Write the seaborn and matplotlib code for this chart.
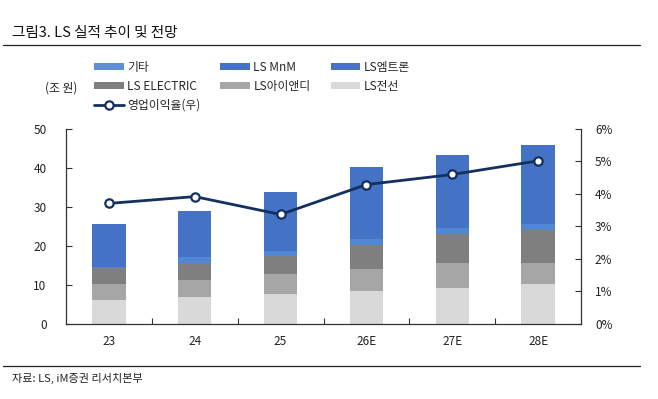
import numpy as np
import pandas as pd
import seaborn as sns
import matplotlib.pyplot as plt
from matplotlib.patches import Patch
from matplotlib.lines import Line2D
from matplotlib.ticker import FixedLocator, PercentFormatter

# 데이터 (단위: 조 원)
years = ['23', '24', '25', '26E', '27E', '28E']
ls_cable = [6.15, 6.85, 7.6, 8.45, 9.3, 10.3]      # LS전선
ls_ind = [4.1, 4.45, 5.1, 5.65, 6.4, 5.25]          # LS아이앤디
ls_electric = [4.0, 4.45, 4.8, 6.2, 7.4, 8.55]      # LS ELECTRIC
etc = [0.3, 1.5, 1.3, 1.4, 1.4, 1.5]                # 기타
ls_mtron = [1.2, 1.2, 1.3, 1.4, 1.5, 1.6]           # LS엠트론
ls_mnm = [9.8, 10.6, 13.7, 17.2, 17.4, 18.8]        # LS MnM
op_margin = [3.71, 3.92, 3.37, 4.29, 4.60, 5.02]    # 영업이익율(%)

df = pd.DataFrame({'year': years, 'LS전선': ls_cable, 'LS아이앤디': ls_ind,
                   'LS ELECTRIC': ls_electric, '기타': etc,
                   'LS엠트론': ls_mtron, 'LS MnM': ls_mnm, 'margin': op_margin})

colors = {'LS전선': '#d9d9d9', 'LS아이앤디': '#a6a6a6', 'LS ELECTRIC': '#7f7f7f',
          '기타': '#5287d3', 'LS엠트론': '#4472c4', 'LS MnM': '#4472c4'}
stack = ['LS전선', 'LS아이앤디', 'LS ELECTRIC', '기타', 'LS엠트론', 'LS MnM']

sns.set_theme(style='white')
plt.rcParams['font.family'] = ['Noto Sans CJK KR', 'DejaVu Sans']

fig = plt.figure(figsize=(6.58, 3.99), dpi=100)
ax = fig.add_axes([0.1003, 0.188, 0.7827, 0.4887])

bottom = np.zeros(len(df))
for col in stack:
    sns.barplot(data=df, x='year', y=col, color=colors[col], bottom=bottom,
                width=0.39, saturation=1, ax=ax, linewidth=0)
    bottom += df[col].values

ax.set_ylim(0, 50)
ax.set_xlim(-0.5, 5.5)
ax.set_yticks(range(0, 51, 10))
ax.set_xlabel('')
ax.set_ylabel('')
ax.xaxis.set_minor_locator(FixedLocator(np.arange(0.5, 5, 1)))
ax.tick_params(axis='x', which='major', length=0, labelsize=8.5, pad=8, colors='#222222')
ax.tick_params(axis='x', which='minor', direction='in', length=4, width=0.8,
               bottom=True, color='#333333')
ax.tick_params(axis='y', direction='in', length=4, width=0.8, labelsize=8.5,
               pad=14, left=True, color='#333333', labelcolor='#222222')
for s in ['top', 'right']:
    ax.spines[s].set_visible(False)
for s in ['left', 'bottom']:
    ax.spines[s].set_color('#333333')
    ax.spines[s].set_linewidth(0.9)

ax2 = ax.twinx()
sns.lineplot(data=df, x='year', y='margin', ax=ax2, color='#14305e', linewidth=2,
             marker='o', markersize=6, markerfacecolor='white',
             markeredgecolor='#14305e', markeredgewidth=1.6)
ax2.set_ylim(0, 6)
ax2.set_yticks(range(0, 7))
ax2.yaxis.set_major_formatter(PercentFormatter(decimals=0))
ax2.set_ylabel('')
ax2.tick_params(axis='y', direction='in', length=4, width=0.8, labelsize=8.5,
                pad=10, right=True, color='#333333', labelcolor='#222222')
for s in ['top', 'left', 'bottom']:
    ax2.spines[s].set_visible(False)
ax2.spines['right'].set_color('#333333')
ax2.spines['right'].set_linewidth(0.9)

# 범례
legend_colors = {'기타': '#5f8fd4', 'LS MnM': '#4472c4', 'LS엠트론': '#4673c4',
                 'LS ELECTRIC': '#7f7f7f', 'LS아이앤디': '#a6a6a6', 'LS전선': '#d9d9d9'}
h = {k: Patch(facecolor=v, edgecolor='none') for k, v in legend_colors.items()}
line_h = Line2D([], [], color='#14305e', linewidth=2, marker='o', markersize=6,
                markerfacecolor='white', markeredgecolor='#14305e', markeredgewidth=1.6)
handles = [h['기타'], h['LS ELECTRIC'], line_h, h['LS MnM'], h['LS아이앤디'],
           h['LS엠트론'], h['LS전선']]
labels = ['기타', 'LS ELECTRIC', '영업이익율(우)', 'LS MnM', 'LS아이앤디',
          'LS엠트론', 'LS전선']
fig.legend(handles, labels, loc='upper left', bbox_to_anchor=(94 / 658, 1 - 61 / 399),
           ncol=3, frameon=False, fontsize=8.5, handlelength=2.5, handleheight=0.55,
           handletextpad=0.3, columnspacing=1.7, labelspacing=0.5, borderaxespad=0,
           borderpad=0)

fig.text(45 / 658, 1 - 88 / 399, '(조 원)', fontsize=8.5, va='center', ha='left',
         color='#222222')
fig.text(12 / 658, 1 - 33 / 399, '그림3. LS 실적 추이 및 전망', fontsize=10.5,
         va='center', ha='left', color='#111111')
fig.add_artist(Line2D([3 / 658, 640 / 658], [1 - 45 / 399] * 2, color='#222222', lw=0.9))
fig.add_artist(Line2D([3 / 658, 640 / 658], [1 - 366 / 399] * 2, color='#222222', lw=0.9))
fig.text(12 / 658, 1 - 378 / 399, '자료: LS, iM증권 리서치본부', fontsize=8,
         va='center', ha='left', color='#222222')

fig.savefig('out.png', dpi=100)
